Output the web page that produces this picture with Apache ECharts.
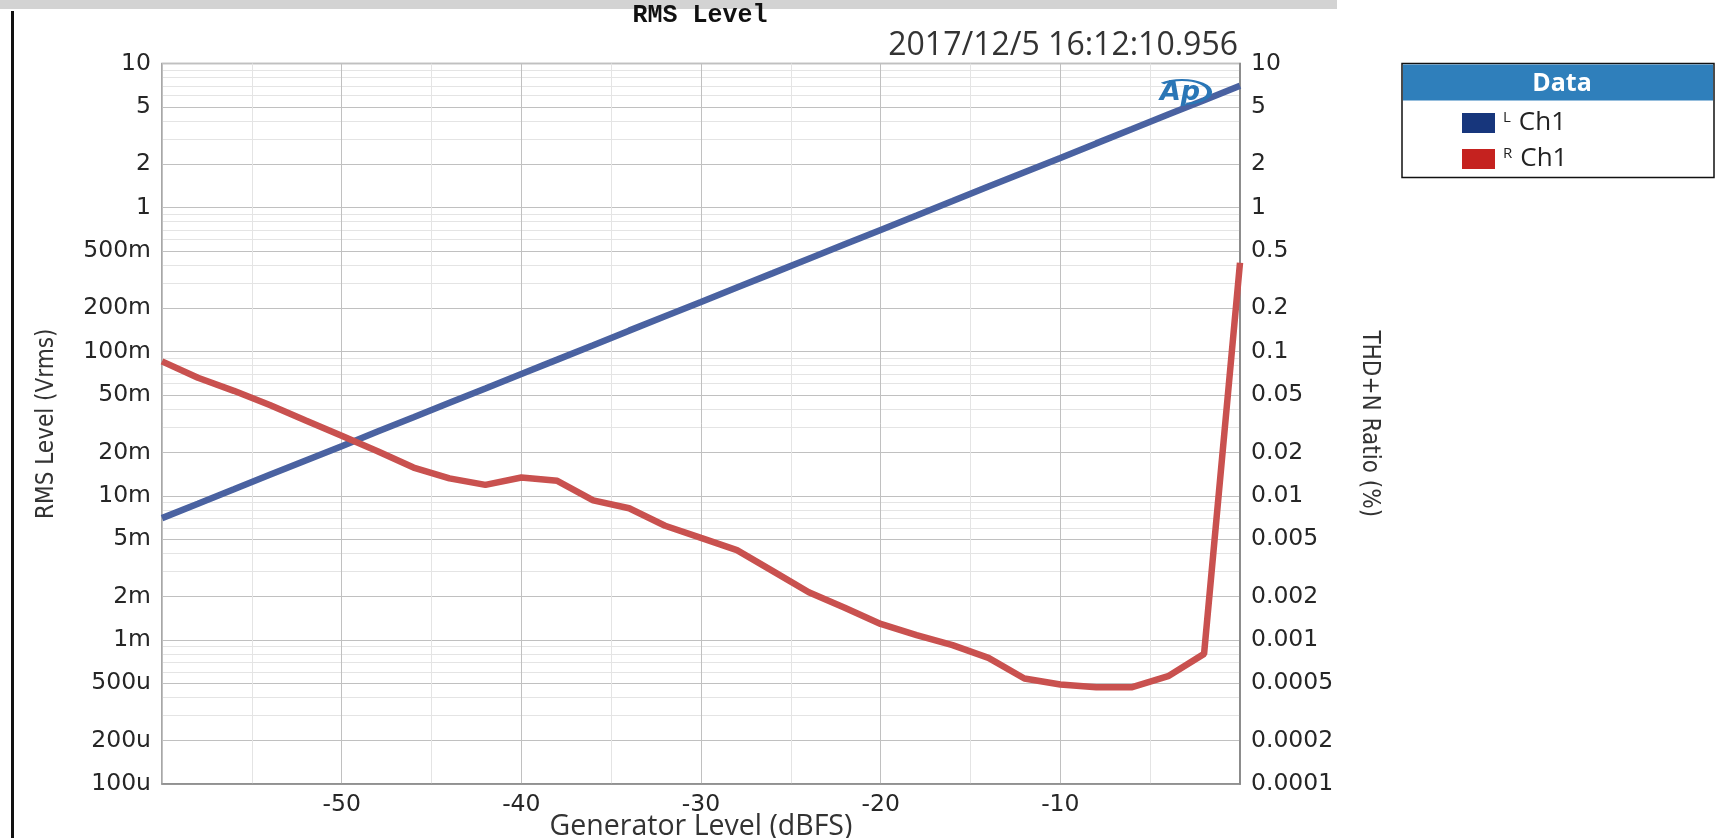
<!DOCTYPE html>
<html><head><meta charset="utf-8">
<script src="https://cdn.jsdelivr.net/npm/echarts@6/dist/echarts.min.js"></script>
<style>html,body{margin:0;padding:0;background:#fff;overflow:hidden}#c{width:1716px;height:838px}</style>
</head><body><div id="c"></div>
<script>
// ---- data ----
const generatorLevel = [-60,-58,-56,-54,-52,-50,-48,-46,-44,-42,-40,-38,-36,-34,-32,-30,-28,-26,-24,-22,-20,-18,-16,-14,-12,-10,-8,-6,-4,-2,0];
const rmsLevelL = [0.00700,0.00881,0.0111,0.0140,0.0176,0.0221,0.0279,0.0351,0.0442,0.0556,0.0700,0.0881,0.111,0.140,0.176,0.221,0.279,0.351,0.442,0.556,0.700,0.881,1.11,1.40,1.76,2.21,2.79,3.51,4.42,5.56,7.00];
const thdnR = [0.0857,0.0659,0.0535,0.0426,0.0333,0.0261,0.0204,0.0157,0.0132,0.0119,0.0134,0.0127,0.0093,0.0082,0.0062,0.0051,0.0042,0.0030,0.00214,0.00167,0.00129,0.00108,0.00092,0.00075,0.00054,0.00049,0.00047,0.00047,0.00056,0.00080,0.414];
const yTickValues = [1e-4,2e-4,5e-4,1e-3,2e-3,5e-3,0.01,0.02,0.05,0.1,0.2,0.5,1,2,5,10];
const leftTickLabels = ['100u','200u','500u','1m','2m','5m','10m','20m','50m','100m','200m','500m','1','2','5','10'];
const rightTickLabels = ['0.0001','0.0002','0.0005','0.001','0.002','0.005','0.01','0.02','0.05','0.1','0.2','0.5','1','2','5','10'];
const xTickLabels = {'-50':'-50','-40':'-40','-30':'-30','-20':'-20','-10':'-10'};
const seriesNames = ['L Ch1','R Ch1'];
const titleText = 'RMS Level';
const timestampText = '2017/12/5 16:12:10.956';

// minor grid positions (3,4,6,7,8,9 per decade)
const minorGrid = [];
[1e-4,1e-3,1e-2,1e-1,1].forEach(d => [3,4,6,7,8,9].forEach(m => minorGrid.push(m*d)));

function lookup(v, labels){
  const i = yTickValues.findIndex(t => Math.abs(t - v) / t < 1e-6);
  return i < 0 ? '' : labels[i];
}

const AX = '#8a8a8a';
const TICKFONT = {fontFamily:'DejaVu Sans, Verdana, sans-serif', fontSize:23.5, color:'#262626'};
const NAMEFONT = 'Liberation Sans Narrow, DejaVu Sans Condensed, Roboto Condensed, Roboto, sans-serif';
const chart = echarts.init(document.getElementById('c'));
chart.setOption({
  animation:false,
  backgroundColor:'#fff',
  grid:{left:162, right:476, top:63.5, bottom:54, show:true, borderColor:AX, borderWidth:1.5, backgroundColor:'#fff', containLabel:false, outerBoundsMode:'none'},
  xAxis:{
    type:'value', min:-60, max:0, interval:10,
    axisLine:{show:true, onZero:false, lineStyle:{color:AX, width:1.5}},
    axisTick:{show:false},
    axisLabel:Object.assign({margin:9, formatter:v => xTickLabels[String(v)] || ''}, TICKFONT),
    splitLine:{show:true, lineStyle:{color:'#c0c0c0', width:1}},
    minorTick:{show:false, splitNumber:2},
    minorSplitLine:{show:true, lineStyle:{color:'#e4e4e4', width:1}},
    name:'Generator Level (dBFS)', nameLocation:'middle', nameGap:28, nameMoveOverlap:false,
    nameTextStyle:{fontFamily:'Open Sans, sans-serif', fontSize:28.5, color:'#333'}
  },
  yAxis:[
    {
      type:'log', logBase:10, min:1e-4, max:10, position:'left',
      axisLine:{show:true, lineStyle:{color:AX, width:1.5}},
      axisTick:{show:false, customValues:yTickValues},
      axisLabel:Object.assign({customValues:yTickValues, margin:11, formatter:v => lookup(v, leftTickLabels)}, TICKFONT),
      splitLine:{show:true, lineStyle:{color:'#c0c0c0', width:1}},
      name:'RMS Level (Vrms)', nameLocation:'middle', nameGap:103, nameMoveOverlap:false,
      nameTextStyle:{fontFamily:NAMEFONT, fontSize:24, color:'#333'}
    },
    {
      type:'log', logBase:10, min:1e-4, max:10, position:'right',
      axisLine:{show:true, lineStyle:{color:AX, width:1.5}},
      axisTick:{show:false, customValues:yTickValues},
      axisLabel:Object.assign({customValues:yTickValues, margin:11, formatter:v => lookup(v, rightTickLabels)}, TICKFONT),
      splitLine:{show:false},
      name:'THD+N Ratio (%)', nameLocation:'middle', nameRotate:-90, nameGap:117, nameMoveOverlap:false,
      nameTextStyle:{fontFamily:NAMEFONT, fontSize:24, color:'#333'}
    },
    {
      type:'log', logBase:10, min:1e-4, max:10, position:'left',
      axisLine:{show:false}, axisLabel:{show:false},
      axisTick:{show:false, customValues:minorGrid},
      splitLine:{show:true, lineStyle:{color:'#e4e4e4', width:1}}
    }
  ],
  legend:{
    orient:'vertical', left:1457, top:105, itemWidth:33, itemHeight:20, itemGap:10, icon:'rect', selectedMode:false,
    data:[{name:seriesNames[0], itemStyle:{color:'#17367c'}},{name:seriesNames[1], itemStyle:{color:'#c5221f'}}],
    formatter:n => '{s|' + n.charAt(0) + '}{t|' + n.slice(2) + '}',
    textStyle:{rich:{
      s:{fontFamily:'Open Sans, sans-serif', fontSize:15, color:'#222', verticalAlign:'top', padding:[0,8,0,3]},
      t:{fontFamily:'Open Sans, sans-serif', fontSize:26, color:'#222'}
    }}
  },
  graphic:[
    {type:'rect', shape:{x:0,y:0,width:1337,height:9}, style:{fill:'#d3d3d3'}, z:1},
    {type:'rect', shape:{x:11,y:11,width:3,height:827}, style:{fill:'#111'}, z:1},
    {type:'text', x:700, y:16, style:{text:titleText, fill:'#111', font:'bold 25px "Liberation Mono", monospace', textAlign:'center', textVerticalAlign:'middle'}, z:5},
    {type:'text', x:1238, y:46, style:{text:timestampText, fill:'#333', font:'32px "Open Sans", sans-serif', textAlign:'right', textVerticalAlign:'middle'}, z:5},
    {type:'text', x:1180, y:93, style:{text:'Ap', fill:'#2a76b6', font:'italic bold 27px "DejaVu Sans", sans-serif', textAlign:'center', textVerticalAlign:'middle'}, z:6},
    {type:'arc', x:1182, y:92, scaleX:2.3, shape:{cx:0,cy:0,r:12, startAngle:-Math.PI*0.75, endAngle:Math.PI*0.45}, style:{stroke:'#2a76b6', lineWidth:2.2, fill:null}, z:6},
    {type:'rect', shape:{x:1402,y:63.5,width:312,height:114}, style:{fill:'#fff', stroke:'#111', lineWidth:1.5}, z:1},
    {type:'rect', shape:{x:1403,y:64.5,width:310,height:36}, style:{fill:'#2f7fbb'}, z:2},
    {type:'text', x:1562, y:84, style:{text:'Data', fill:'#fff', font:'bold 25px "Open Sans", sans-serif', textAlign:'center', textVerticalAlign:'middle'}, z:3}
  ],
  series:[
    {name:seriesNames[0], type:'line', yAxisIndex:0, showSymbol:false, symbol:'none', z:3,
     data:generatorLevel.map((x,i) => [x, rmsLevelL[i]]),
     lineStyle:{color:'#4a62a1', width:6.5}, itemStyle:{color:'#17367c'}},
    {name:seriesNames[1], type:'line', yAxisIndex:1, showSymbol:false, symbol:'none', z:4,
     data:generatorLevel.map((x,i) => [x, thdnR[i]]),
     lineStyle:{color:'#c9514f', width:6.5}, itemStyle:{color:'#c5221f'}}
  ]
});
</script></body></html>
